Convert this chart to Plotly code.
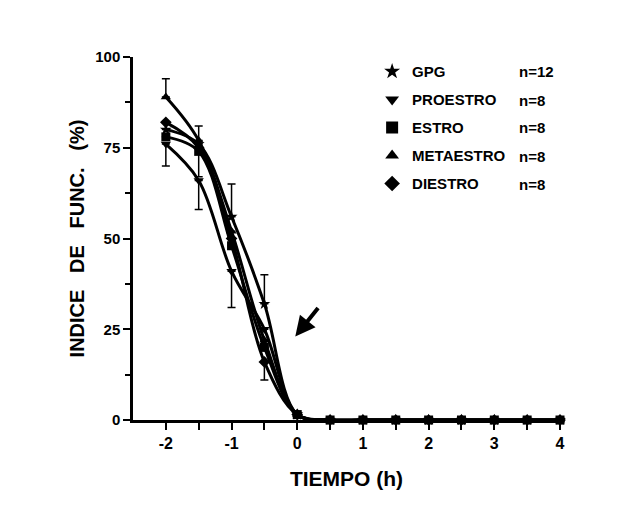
import plotly.graph_objects as go

tiempo = [-2, -1.5, -1, -0.5, 0, 0.5, 1, 1.5, 2, 2.5, 3, 3.5, 4]
gpg = [80, 76, 56, 32, 1.5, 0, 0, 0, 0, 0, 0, 0, 0]
proestro = [76, 66, 41, 25, 1.5, 0, 0, 0, 0, 0, 0, 0, 0]
estro = [78, 74, 48, 20, 1.5, 0, 0, 0, 0, 0, 0, 0, 0]
metaestro = [89, 77, 52, 22, 1.5, 0, 0, 0, 0, 0, 0, 0, 0]
diestro = [82, 75, 50, 16, 1.5, 0, 0, 0, 0, 0, 0, 0, 0]

# error bars (upper, lower)
gpg_up = [0, 0, 9, 8, 0, 0, 0, 0, 0, 0, 0, 0, 0]
gpg_dn = [0] * 13
pro_up = [0] * 13
pro_dn = [6, 8, 10, 0, 0, 0, 0, 0, 0, 0, 0, 0, 0]
est_up = [0, 7, 0, 0, 0, 0, 0, 0, 0, 0, 0, 0, 0]
est_dn = [0, 7, 0, 0, 0, 0, 0, 0, 0, 0, 0, 0, 0]
met_up = [5, 0, 0, 0, 0, 0, 0, 0, 0, 0, 0, 0, 0]
met_dn = [0] * 13
die_up = [0] * 13
die_dn = [0, 0, 0, 5, 0, 0, 0, 0, 0, 0, 0, 0, 0]

names = ["GPG", "PROESTRO", "ESTRO", "METAESTRO", "DIESTRO"]
counts = ["n=12", "n=8", "n=8", "n=8", "n=8"]
symbols = ["star", "triangle-down", "square", "triangle-up", "diamond"]
series = [gpg, proestro, estro, metaestro, diestro]
errs = [(gpg_up, gpg_dn), (pro_up, pro_dn), (est_up, est_dn), (met_up, met_dn), (die_up, die_dn)]

x_ticks = [-2, -1.5, -1, -0.5, 0, 0.5, 1, 1.5, 2, 2.5, 3, 3.5, 4]
x_ticktext = ["-2", "", "-1", "", "0", "", "1", "", "2", "", "3", "", "4"]
y_ticks = [0, 25, 50, 75, 100]

FONT = "Liberation Sans"
fig = go.Figure()
for i, (nm, sym, ys, (up, dn)) in enumerate(zip(names, symbols, series, errs)):
    fig.add_trace(go.Scatter(
        x=tiempo, y=ys, mode="lines+markers", showlegend=False,
        line=dict(color="black", width=3, shape="spline", smoothing=1),
        marker=dict(symbol=sym, size=9, color="black"),
        error_y=dict(type="data", array=up, arrayminus=dn, symmetric=False,
                     color="black", thickness=1.5, width=4),
        cliponaxis=False,
    ))
for i, (nm, sym) in enumerate(zip(names, symbols)):
    fig.add_trace(go.Scatter(
        x=[None], y=[None], mode="markers", name=nm, legendgroup=nm,
        marker=dict(symbol=sym, size=12, color="black"),
    ))

fig.update_layout(
    width=621, height=515,
    margin=dict(l=133, r=61, t=57, b=95),
    paper_bgcolor="white", plot_bgcolor="white",
    font=dict(family=FONT, color="black"),
    showlegend=True,
    legend=dict(x=0.56, y=1.005, xanchor="left", yanchor="top",
                font=dict(family=FONT, size=15, color="black", weight="bold"),
                tracegroupgap=5.5, itemwidth=30, bgcolor="rgba(0,0,0,0)"),
    xaxis=dict(range=[-2.5, 4], tickvals=x_ticks, ticktext=x_ticktext,
               showline=True, linecolor="black", linewidth=2.5,
               ticks="outside", ticklen=7, tickwidth=2, tickcolor="black",
               showgrid=False, zeroline=False,
               tickfont=dict(family=FONT, size=16, weight="bold"),
               title=dict(text="TIEMPO (h)", standoff=21,
                          font=dict(family=FONT, size=21, weight="bold"))),
    yaxis=dict(range=[0, 100], tickvals=y_ticks,
               showline=True, linecolor="black", linewidth=2.5,
               ticks="outside", ticklen=7, tickwidth=2, tickcolor="black",
               minor=dict(tickvals=[12.5, 37.5, 62.5, 87.5], ticks="outside",
                          ticklen=5, tickwidth=1.5, tickcolor="black"),
               showgrid=False, zeroline=False,
               tickfont=dict(family=FONT, size=15, weight="bold"),
               title=dict(text="INDICE\u00a0\u00a0 DE\u00a0\u00a0 FUNC.\u00a0\u00a0 (%)", standoff=6,
                          font=dict(family=FONT, size=20, weight="bold"))),
)

row_px = [72, 100, 128, 156, 184]
for cnt, rp in zip(counts, row_px):
    fig.add_annotation(x=0.90, y=(420 - rp) / 363, xref="paper", yref="paper", text=cnt,
                       showarrow=False, xanchor="left", yanchor="middle",
                       font=dict(family=FONT, size=15, weight="bold"))

fig.add_annotation(x=-0.03, y=23, xref="x", yref="y", text="", showarrow=True,
                   ax=24, ay=-30, arrowhead=2, arrowsize=1, arrowwidth=4, arrowcolor="black")
fig.add_annotation(x=-2.55, y=-2, xref="x", yref="y", text="", showarrow=True,
                   ax=0, ay=30, arrowhead=2, arrowsize=1, arrowwidth=4, arrowcolor="black")

fig.write_html("out.html")
